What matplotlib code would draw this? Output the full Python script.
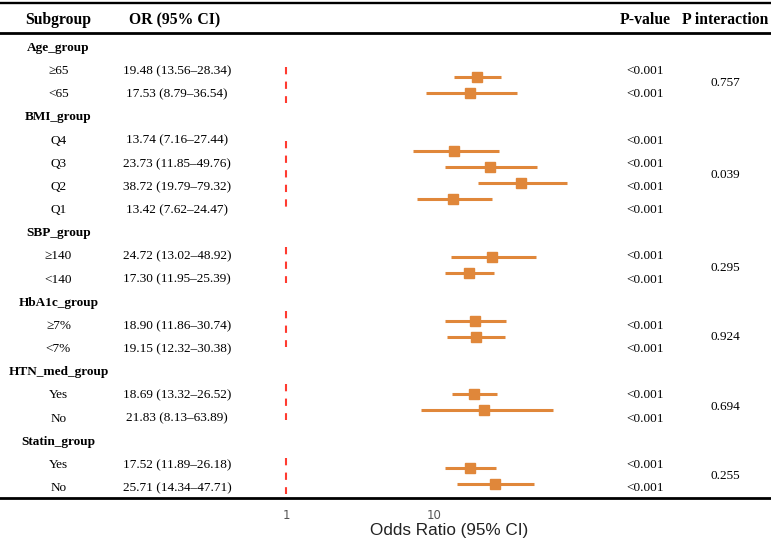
import numpy as np
import matplotlib
matplotlib.use('Agg')
import matplotlib.pyplot as plt

# data
groups = ['Age_group', 'BMI_group', 'SBP_group', 'HbA1c_group', 'HTN_med_group', 'Statin_group']
subgroups = [['≥65', '<65'], ['Q4', 'Q3', 'Q2', 'Q1'], ['≥140', '<140'],
             ['≥7%', '<7%'], ['Yes', 'No'], ['Yes', 'No']]
or_vals = [[19.48, 17.53], [13.74, 23.73, 38.72, 13.42], [24.72, 17.30],
           [18.90, 19.15], [18.69, 21.83], [17.52, 25.71]]
ci_low = [[13.56, 8.79], [7.16, 11.85, 19.79, 7.62], [13.02, 11.95],
          [11.86, 12.32], [13.32, 8.13], [11.89, 14.34]]
ci_high = [[28.34, 36.54], [27.44, 49.76, 79.32, 24.47], [48.92, 25.39],
           [30.74, 30.38], [26.52, 63.89], [26.18, 47.71]]
p_values = [['<0.001'] * len(s) for s in subgroups]
p_interaction = ['0.757', '0.039', '0.295', '0.924', '0.694', '0.255']

# layout (pixels)
W, H = 771, 542
row0, row_step = 48, 23.16
forest_centers = [85, 175, 265, 329, 402.5, 476]
forest_step = 16
x_one, decade = 286, 148
ax_left, ax_right, ax_bottom = 250, 610, 498
col_sub, col_or, col_p, col_pi = 58.5, 177, 645, 725

orange = '#e0873a'
serif = ['Liberation Serif', 'DejaVu Serif']

fig = plt.figure(figsize=(W / 100, H / 100), dpi=100)
bg = fig.add_axes([0, 0, 1, 1])
bg.set_xlim(0, W)
bg.set_ylim(H, 0)
bg.axis('off')

# rules
bg.axhline(3, color='black', lw=1.7)
bg.axhline(33, color='black', lw=2)
bg.axhline(ax_bottom, color='black', lw=2)

# header
hdr = dict(fontsize=11.3, fontweight='bold', family=serif, va='center', ha='center')
bg.text(col_sub, 20, 'Subgroup', **hdr)
bg.text(col_or - 2, 20, 'OR (95% CI)', **hdr)
bg.text(col_p, 20, 'P-value', **hdr)
bg.text(col_pi, 20, 'P interaction', **hdr)

# forest axes
ax = fig.add_axes([ax_left / W, (H - ax_bottom) / H, (ax_right - ax_left) / W, ax_bottom / H])
ax.patch.set_alpha(0)
ax.set_xscale('log')
ax.set_xlim(10 ** ((ax_left - x_one) / decade), 10 ** ((ax_right - x_one) / decade))
ax.set_ylim(ax_bottom, 0)
for s in ax.spines.values():
    s.set_visible(False)
ax.set_yticks([])
ax.set_xticks([1, 10])
ax.set_xticklabels(['1', '10'])
ax.minorticks_off()
ax.tick_params(axis='x', length=0, pad=8, labelsize=8.5, labelcolor='#555555')

body = dict(fontsize=9.5, family=serif, va='center', ha='center')
row = 0
for g, name in enumerate(groups):
    y_g = row0 + row * row_step
    bg.text(col_sub, y_g, name, fontweight='bold', **body)
    row += 1
    n = len(subgroups[g])
    text_rows = []
    for k in range(n):
        y = row0 + row * row_step
        text_rows.append(y)
        bg.text(col_sub, y, subgroups[g][k], **body)
        bg.text(col_or, y, f"{or_vals[g][k]:.2f} ({ci_low[g][k]:.2f}–{ci_high[g][k]:.2f})", **body)
        bg.text(col_p, y, p_values[g][k], **body)
        row += 1
    bg.text(col_pi, np.mean(text_rows), p_interaction[g], **body)

    c = forest_centers[g]
    ys = [c + (k - (n - 1) / 2) * forest_step for k in range(n)]
    ax.vlines(1, c - (8 * n + 2), c + (8 * n + 2), color='#ff3b30', lw=1.5,
              linestyles=(0, (3.5, 3.5)))
    ax.hlines(ys, ci_low[g], ci_high[g], color=orange, lw=2.2)
    ax.plot(or_vals[g], ys, 's', color=orange, markersize=7, linestyle='none')

fig.text(449 / W, 1 - 530 / H, 'Odds Ratio (95% CI)', ha='center', va='center',
         fontsize=12.3, family=['Liberation Sans', 'DejaVu Sans'], color='#222222')

fig.savefig('out.png', dpi=100)
